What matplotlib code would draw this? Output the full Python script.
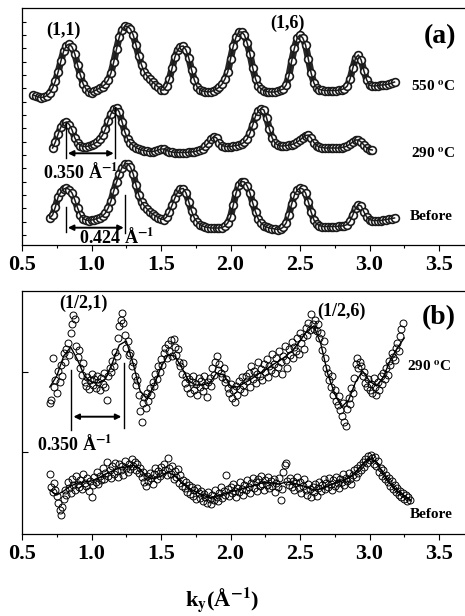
import matplotlib
matplotlib.use('Agg')
import matplotlib.pyplot as plt
import numpy as np

plt.rcParams['font.family'] = ['Liberation Serif', 'DejaVu Serif']
plt.rcParams['font.weight'] = 'bold'
plt.rcParams['mathtext.fontset'] = 'stix'

# ---- panel (a): integrated profiles, k step 0.02 ----
STEP_A = 0.02
K0_550 = 0.58
I_550 = [150, 149, 148, 147.5, 148, 149.5, 152, 157, 164, 173,
         184, 194, 199.5, 201, 198, 191, 180, 170, 161, 156,
         153, 152.5, 154, 155.5, 157, 158.5, 161, 165, 172, 183,
         196, 208, 215.5, 219, 218.5, 216, 210, 200, 189, 180,
         173, 169, 166, 163, 160.5, 158, 155, 155, 159, 166,
         177, 188, 195, 198.5, 199, 195, 187, 175, 165, 158,
         155.5, 154, 153.5, 153, 153.5, 154.5, 156, 158, 161, 166,
         173, 186, 199, 208, 213, 213, 210, 202, 191, 177,
         166, 159, 156, 154.5, 153.5, 153, 153, 153, 154, 155,
         156, 160, 169, 184, 197, 207, 210, 207, 200, 186,
         172, 162, 157, 155.5, 155, 154.5, 154.5, 154.5, 154.5, 154.5,
         155, 155.5, 156.5, 159, 166, 177, 187, 190, 185, 174,
         165, 160, 159, 159, 159.5, 160, 160, 160.5, 161, 162,
         163]

K0_290 = 0.72
I_290 = [97, 103, 111, 118, 122, 123, 120.5, 115, 107, 102,
         99.5, 98.5, 98.5, 99, 100, 101.5, 103, 106, 110, 116,
         124, 131, 136, 137, 133, 123, 113, 106, 102, 99.5,
         97.5, 96, 95, 94.5, 94, 93.5, 93.5, 94, 95, 96,
         96, 94.5, 93.5, 93, 92.5, 92.5, 92.5, 92.5, 92.5, 93,
         93, 93.5, 94, 95, 96.5, 99, 102, 106, 108.5, 107,
         102, 99.5, 98.5, 98.5, 98.5, 99, 99.5, 100, 101, 103,
         106, 112, 120, 129, 134, 136.5, 135, 127, 116, 107,
         102, 100, 99, 99, 99.5, 100, 100.5, 101.5, 103, 105,
         107.5, 109.5, 110, 107, 102.5, 99.5, 98, 97.5, 97, 97,
         97, 97, 97, 97, 97.5, 98, 99, 101, 103, 105,
         105, 103, 100, 97, 95.5, 95]

K0_BEF = 0.70
I_BEF = [27, 30, 38, 48, 53, 56, 57, 55.5, 52, 45,
         37, 30, 26.5, 25, 24.5, 25, 25.5, 26.5, 27.5, 29,
         32, 37, 44, 54, 63, 71, 77.5, 81, 81.5, 78,
         71, 60, 50, 43, 39, 36, 33, 31, 29, 27.5,
         26, 25.5, 28, 33, 40, 47, 53, 56, 56.5, 52,
         43, 34, 27, 23, 20.5, 19, 18, 17.5, 17, 17,
         17, 17, 17.5, 19, 22, 28, 40, 52, 60, 63.5,
         63, 59, 52, 42, 33, 26, 22, 19.5, 18, 17,
         16.5, 16, 15.5, 16, 18, 22, 30, 41, 50, 55,
         57, 56, 52, 43, 33, 25, 21, 19.5, 18.5, 18.5,
         18.5, 18.5, 18.5, 18.5, 19, 19, 19.5, 20.5, 24, 30,
         37, 40, 39, 33, 28, 25.5, 24.5, 24.5, 24.5, 24.5,
         25, 25.5, 26, 26.5, 27]

# ---- panel (b): half-order profiles, k step 0.01, fits step 0.05 ----
STEP_B = 0.01
K0_B = 0.70
B_290 = [131, 134, 176, 147, 154, 141, 163, 152, 169, 158,
         181, 172, 185, 191, 179, 201, 210, 219, 215, 188,
         177, 184, 166, 159, 171, 152, 148, 157, 145, 154,
         160, 149, 155, 146, 158, 152, 144, 156, 150, 161,
         147, 134, 158, 166, 162, 173, 168, 182, 178, 196,
         208, 214, 221, 211, 199, 186, 193, 179, 181, 168,
         172, 158, 149, 154, 139, 123, 112, 131, 137, 126,
         141, 133, 146, 139, 152, 148, 160, 155, 168, 162,
         175, 169, 181, 186, 176, 190, 183, 194, 178, 195,
         187, 179, 185, 172, 168, 160, 171, 151, 158, 146,
         155, 141, 152, 158, 144, 150, 139, 156, 147, 153,
         143, 158, 149, 137, 152, 156, 148, 166, 159, 172,
         178, 164, 170, 161, 157, 166, 152, 155, 146, 141,
         150, 136, 144, 132, 148, 139, 153, 145, 157, 149,
         142, 158, 153, 161, 147, 168, 155, 163, 151, 160,
         172, 158, 165, 154, 170, 162, 175, 157, 168, 164,
         180, 170, 161, 176, 167, 183, 172, 160, 178, 188,
         174, 166, 185, 179, 192, 176, 187, 183, 196, 180,
         201, 191, 197, 185, 206, 199, 211, 204, 220, 210,
         205, 214, 203, 210, 196, 201, 184, 193, 176, 166,
         161, 154, 147, 158, 139, 144, 133, 129, 138, 124,
         118, 131, 112, 108, 125, 136, 130, 146, 141, 156,
         170, 176, 166, 172, 168, 158, 162, 151, 147, 155,
         144, 150, 141, 156, 147, 139, 152, 144, 158, 150,
         161, 155, 166, 159, 173, 169, 181, 177, 174, 186,
         191, 183, 198, 205, 211]

B_BEF = [60, 47, 42, 51, 44, 38, 31, 24, 19, 27,
         35, 44, 39, 52, 46, 41, 55, 49, 44, 58,
         50, 47, 54, 45, 60, 51, 48, 56, 43, 53,
         37, 49, 57, 52, 62, 50, 58, 54, 66, 55,
         61, 72, 58, 64, 56, 68, 60, 71, 63, 57,
         70, 64, 68, 59, 73, 66, 62, 70, 65, 75,
         68, 72, 64, 70, 61, 66, 57, 62, 52, 48,
         58, 53, 61, 56, 50, 60, 66, 55, 63, 58,
         67, 61, 70, 64, 59, 76, 66, 60, 68, 55,
         63, 57, 65, 51, 59, 48, 54, 46, 52, 42,
         49, 40, 47, 38, 44, 35, 46, 41, 36, 43,
         33, 40, 37, 31, 42, 35, 30, 39, 34, 44,
         37, 33, 41, 47, 36, 43, 39, 59, 45, 38,
         47, 41, 50, 43, 37, 46, 42, 52, 45, 39,
         49, 44, 54, 47, 41, 51, 56, 46, 52, 43,
         55, 48, 58, 50, 44, 54, 49, 57, 46, 53,
         48, 55, 42, 51, 47, 56, 34, 45, 62, 69,
         71, 53, 49, 56, 47, 53, 44, 51, 57, 46,
         52, 41, 48, 55, 44, 39, 50, 45, 37, 47,
         42, 50, 38, 46, 52, 43, 49, 55, 45, 51,
         47, 56, 50, 44, 54, 48, 57, 51, 46, 55,
         52, 60, 49, 56, 53, 61, 55, 50, 59, 64,
         57, 66, 61, 69, 64, 72, 67, 75, 71, 78,
         74, 79, 76, 70, 77, 68, 73, 62, 66, 58,
         64, 55, 59, 52, 56, 48, 53, 45, 49, 42,
         46, 39, 43, 37, 41, 35, 39, 33, 37, 34]

FIT_STEP = 0.05
FIT_290 = [147, 158, 178, 187, 174, 158, 152, 151, 155, 171,
           189, 193, 170, 143, 135, 149, 167, 179, 178, 166,
           153, 149, 149, 151, 161, 159, 148, 147, 151, 155,
           160, 164, 169, 173, 178, 184, 193, 203, 208, 190,
           160, 140, 127, 134, 152, 163, 153, 148, 157, 174,
           186, 196]
FIT_BEF = [44, 39, 43, 48, 51, 52, 53, 56, 60, 63,
           66, 67, 69, 65, 57, 55, 58, 62, 58, 51,
           46, 42, 39, 36, 38, 40, 42, 44, 46, 48,
           50, 52, 51, 50, 52, 51, 49, 47, 44, 45,
           48, 51, 53, 56, 62, 70, 75, 72, 60, 50,
           43, 38, 33]

XTICKS = [0.5, 1.0, 1.5, 2.0, 2.5, 3.0, 3.5]


def kgrid(k0, step, vals):
    return k0 + step * np.arange(len(vals))


def style_x(ax):
    ax.set_xlim(0.5, 3.75)
    ax.set_xticks(XTICKS)
    ax.set_xticklabels(['%.1f' % t for t in XTICKS])
    ax.set_xticks(np.arange(0.75, 3.75, 0.5), minor=True)
    ax.tick_params(axis='x', which='major', direction='out', length=4,
                   width=0.8, labelsize=16, pad=3)
    ax.tick_params(axis='x', which='minor', direction='out', length=2.5, width=0.8)
    for s in ax.spines.values():
        s.set_linewidth(0.9)


def double_arrow(ax, x0, x1, y):
    ax.annotate('', xy=(x1, y), xytext=(x0, y),
                arrowprops=dict(arrowstyle='<|-|>', color='black', lw=1.4,
                                mutation_scale=8, shrinkA=0, shrinkB=0))


fig = plt.figure(figsize=(4.65, 6.16), dpi=100)
W = 3.25 * 139 / 465

# ---- (a) ----
ax = fig.add_axes([22 / 465, (616 - 245) / 616, W, 237 / 616])
for k0, vals in [(K0_550, I_550), (K0_290, I_290), (K0_BEF, I_BEF)]:
    k = kgrid(k0, STEP_A, vals)
    ax.plot(k, vals, '-', color='#262626', lw=5, solid_capstyle='round', zorder=1)
    ax.plot(k, vals, 'o', ms=5.6, mfc='white', mec='#1a1a1a', mew=1.2, zorder=2)
    ax.plot(k, vals, '-', color='#1a1a1a', lw=1.1, zorder=3)
ax.set_ylim(0, 237)
ax.set_yticks(10 + 13.333 * np.arange(17))
ax.tick_params(axis='y', direction='in', length=3, width=0.8, labelleft=False)
style_x(ax)

ax.plot([0.82, 0.82], [87, 122], color='black', lw=1, zorder=4)
ax.plot([1.168, 1.168], [87, 138], color='black', lw=1, zorder=4)
double_arrow(ax, 0.83, 1.16, 91.7)
ax.text(0.92, 73, u'0.350 \u00c5$^{\\mathbf{-1}}$', ha='center', va='center', fontsize=13)
ax.plot([0.82, 0.82], [13, 38], color='black', lw=1, zorder=4)
ax.plot([1.24, 1.24], [12, 50], color='black', lw=1, zorder=4)
double_arrow(ax, 0.83, 1.232, 17.3)
ax.text(1.183, 8, u'0.424 \u00c5$^{\\mathbf{-1}}$', ha='center', va='center', fontsize=13)

ax.text(0.80, 215, '(1,1)', ha='center', va='center', fontsize=13)
ax.text(2.41, 222, '(1,6)', ha='center', va='center', fontsize=13)
ax.text(3.506, 208, '(a)', ha='center', va='center', fontsize=20)
ax.text(3.30, 158, '550 $^{\\mathbf{o}}$C', ha='left', va='center', fontsize=11)
ax.text(3.30, 91, '290 $^{\\mathbf{o}}$C', ha='left', va='center', fontsize=11)
ax.text(3.29, 29, 'Before', ha='left', va='center', fontsize=11)

# ---- (b) ----
bx = fig.add_axes([22 / 465, (616 - 534) / 616, W, 243 / 616])
for pts, fit in [(B_290, FIT_290), (B_BEF, FIT_BEF)]:
    bx.plot(kgrid(K0_B, FIT_STEP, fit), fit, '-', color='black', lw=1.0)
    bx.plot(kgrid(K0_B, STEP_B, pts), pts, 'o', ms=5, mfc='none', mec='black', mew=0.7)
bx.set_ylim(0, 243)
bx.set_yticks([82, 162])
bx.tick_params(axis='y', direction='in', length=4, width=0.8, labelleft=False)
style_x(bx)

bx.plot([0.856, 0.856], [104, 164], color='black', lw=1)
bx.plot([1.232, 1.232], [105.7, 170.7], color='black', lw=1)
double_arrow(bx, 0.87, 1.215, 117.3)
bx.text(0.88, 90, u'0.350 \u00c5$^{\\mathbf{-1}}$', ha='center', va='center', fontsize=13)

bx.text(0.94, 231, '(1/2,1)', ha='center', va='center', fontsize=13)
bx.text(2.795, 223, '(1/2,6)', ha='center', va='center', fontsize=13)
bx.text(3.50, 216, '(b)', ha='center', va='center', fontsize=20)
bx.text(3.27, 167, '290 $^{\\mathbf{o}}$C', ha='left', va='center', fontsize=11)
bx.text(3.29, 20, 'Before', ha='left', va='center', fontsize=11)

fig.text(222 / 465, 1 - 600 / 616, u'k$_{\\mathbf{y}}$(\u00c5$^{\\mathbf{-1}}$)',
         ha='center', va='center', fontsize=16)

plt.savefig('out.png', dpi=100)
